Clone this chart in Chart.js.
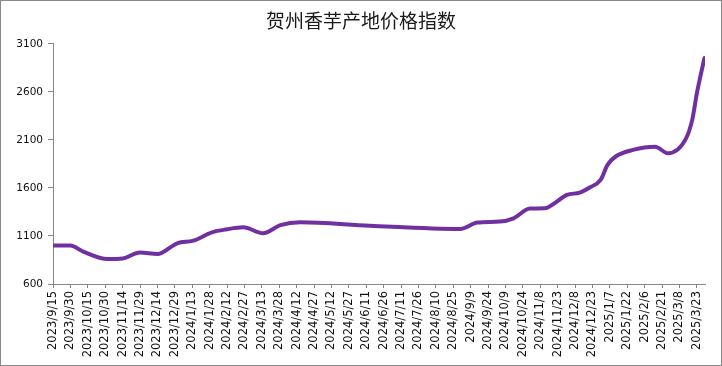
<!DOCTYPE html>
<html>
<head>
<meta charset="utf-8">
<script src="https://cdn.jsdelivr.net/npm/chart.js@4/dist/chart.umd.min.js"></script>
<style>
  body { margin: 0; background: #fff; }
  #wrap { width: 722px; height: 366px; box-sizing: border-box; border: 1px solid #898989; background: #fff; }
</style>
</head>
<body>
<div id="wrap"><canvas id="chart" width="720" height="364"></canvas></div>
<script>
var title = "贺州香芋产地价格指数";

var tickLabels = [
  "2023/9/15", "2023/9/30", "2023/10/15", "2023/10/30", "2023/11/14", "2023/11/29",
  "2023/12/14", "2023/12/29", "2024/1/13", "2024/1/28", "2024/2/12", "2024/2/27",
  "2024/3/13", "2024/3/28", "2024/4/12", "2024/4/27", "2024/5/12", "2024/5/27",
  "2024/6/11", "2024/6/26", "2024/7/11", "2024/7/26", "2024/8/10", "2024/8/25",
  "2024/9/9", "2024/9/24", "2024/10/9", "2024/10/24", "2024/11/8", "2024/11/23",
  "2024/12/8", "2024/12/23", "2025/1/7", "2025/1/22", "2025/2/6", "2025/2/21",
  "2025/3/8", "2025/3/23"
];

// days since 2023/9/15
var pointDays = [0, 15, 26, 47, 60, 75, 90, 107, 121, 137, 150, 164, 181, 196, 213,
  273, 351, 366, 385, 397, 411, 424, 431, 443, 454, 463, 472, 478, 485, 500, 519,
  530, 545, 551, 555, 558, 561.5];
var indexValues = [1000, 1000, 937, 860, 866, 927, 912, 1024, 1051, 1138, 1170, 1190, 1128, 1212, 1243,
  1207, 1173, 1240, 1250, 1284, 1385, 1388, 1430, 1527, 1551, 1607, 1683, 1840, 1927, 1996, 2028,
  1961, 2100, 2308, 2586, 2760, 2951];

var points = [];
for (var i = 0; i < pointDays.length; i++) {
  points.push({ x: pointDays[i], y: indexValues[i] });
}

var axisGray = "#868686";

new Chart(document.getElementById("chart"), {
  type: "line",
  data: {
    datasets: [{
      label: title,
      data: points,
      borderColor: "#7030A0",
      borderWidth: 4,
      pointRadius: 0,
      cubicInterpolationMode: "monotone",
      borderCapStyle: "round",
      borderJoinStyle: "round",
      fill: false
    }]
  },
  options: {
    responsive: false,
    animation: false,
    // equal side padding keeps the title centred on the page
    layout: { padding: { left: 16, right: 16, top: 0, bottom: 0 } },
    plugins: {
      legend: { display: false },
      tooltip: { enabled: false },
      title: {
        display: true,
        text: title,
        color: "#1a1a1a",
        font: { family: "Noto Sans CJK SC", size: 19, weight: "normal" },
        padding: { top: 8, bottom: 12 }
      }
    },
    scales: {
      x: {
        type: "linear",
        min: 0,
        max: 562,
        afterBuildTicks: function (scale) {
          scale.ticks = tickLabels.map(function (l, i) { return { value: i * 15 }; });
        },
        afterFit: function (scale) { scale.height = 81; },
        border: { display: true, color: axisGray, width: 1 },
        grid: { drawOnChartArea: false, drawTicks: true, tickLength: 4, color: axisGray },
        ticks: {
          autoSkip: false,
          maxRotation: 90,
          minRotation: 90,
          padding: 3,
          color: "#111",
          font: { family: "DejaVu Sans", size: 11.5 },
          callback: function (value) { return tickLabels[Math.round(value / 15)]; }
        }
      },
      y: {
        min: 600,
        max: 3100,
        afterFit: function (scale) { scale.width = 36; },
        border: { display: true, color: axisGray, width: 1 },
        grid: { drawOnChartArea: false, drawTicks: true, tickLength: 5, color: axisGray },
        ticks: {
          stepSize: 500,
          padding: 5,
          color: "#111",
          font: { family: "DejaVu Sans", size: 10.5 },
          callback: function (value) { return String(value); }
        }
      }
    }
  }
});
</script>
</body>
</html>
